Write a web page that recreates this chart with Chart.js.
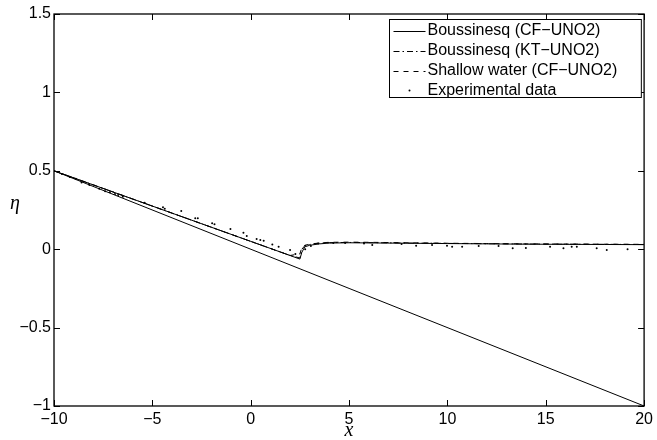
<!DOCTYPE html>
<html>
<head>
<meta charset="utf-8">
<script src="https://cdn.jsdelivr.net/npm/chart.js@4.4.1/dist/chart.umd.min.js"></script>
<style>
  body { margin: 0; background: #fff; }
  canvas { display: block; }
</style>
</head>
<body>
<canvas id="myChart" width="657" height="440"></canvas>
<script>
// axis ticks
const xTicks = [-10, -5, 0, 5, 10, 15, 20];
const yTicks = [-1, -0.5, 0, 0.5, 1, 1.5];

// legend names
const seriesNames = [
    "Boussinesq (CF\u2212UNO2)",
    "Boussinesq (KT\u2212UNO2)",
    "Shallow water (CF\u2212UNO2)",
    "Experimental data"
];

// shared x positions for the computed surfaces
const xs = [-10, -8, -6, -4, -2, 0, 1, 2, 2.5, 2.6, 2.75, 3, 3.5, 4, 5, 6, 8, 10, 12, 14, 16, 18, 20];

//Boussinesq (CF-UNO2)
const cfY = [0.5, 0.41, 0.32, 0.23, 0.14, 0.05, 0.005, -0.04, -0.063, -0.02, 0.015, 0.025, 0.034, 0.039, 0.041, 0.04, 0.038, 0.036, 0.034, 0.032, 0.031, 0.03, 0.029];
//Boussinesq (KT-UNO2)
const ktY = [0.5, 0.41, 0.32, 0.23, 0.14, 0.05, 0.005, -0.04, -0.056, 0.0, 0.022, 0.03, 0.038, 0.042, 0.043, 0.042, 0.039, 0.037, 0.035, 0.033, 0.032, 0.031, 0.03];
//Shallow water (CF-UNO2)
const swY = [0.5, 0.41, 0.32, 0.23, 0.14, 0.05, 0.005, -0.04, -0.03, 0.01, 0.025, 0.032, 0.04, 0.044, 0.045, 0.044, 0.041, 0.038, 0.036, 0.034, 0.033, 0.032, 0.031];

// experimental points
const expX = [-9.6, -9.2, -8.9, -8.6, -8.2, -7.7, -7.4, -7.16, -6.9, -6.74, -6.5, -5.39, -4.46, -4.37, -3.53, -2.82, -2.69, -1.96, -1.84, -1.03, -0.37, -0.2, 0.3, 0.49, 0.66, 1.1, 1.42, 2.0, 2.27, 2.77, 3.06, 3.43, 4.2, 4.8, 5.76, 6.18, 7.67, 8.41, 9.22, 9.98, 10.24, 10.75, 11.59, 12.6, 13.32, 13.99, 15.22, 15.9, 16.32, 16.58, 17.59, 18.1, 19.16];
const expY = [0.48, 0.46, 0.45, 0.425, 0.41, 0.385, 0.37, 0.363, 0.352, 0.345, 0.335, 0.297, 0.267, 0.258, 0.244, 0.197, 0.197, 0.165, 0.159, 0.129, 0.105, 0.084, 0.065, 0.059, 0.054, 0.03, 0.016, -0.005, -0.03, 0.0, 0.02, 0.037, 0.04, 0.04, 0.037, 0.027, 0.033, 0.022, 0.027, 0.022, 0.016, 0.016, 0.02, 0.02, 0.006, 0.008, 0.016, 0.006, 0.016, 0.016, 0.006, -0.005, 0.0];

// sloping bottom
const bedX = [-10, 20];
const bedY = [0.5, -1];

function pts(xa, ya) {
    return xa.map((x, i) => ({x: x, y: ya[i]}));
}

const tickFont = {family: '"Liberation Sans", Arial, sans-serif', size: 16};

function lineSet(label, xa, ya, dash) {
    return {
        label: label,
        data: pts(xa, ya),
        showLine: true,
        borderColor: '#000',
        borderWidth: 1,
        borderDash: dash,
        pointRadius: 0,
        tension: 0
    };
}

let data = {
    datasets: [
        lineSet(seriesNames[0], xs, cfY, []),
        lineSet(seriesNames[1], xs, ktY, [6, 3, 1.5, 3]),
        lineSet(seriesNames[2], xs, swY, [5, 5]),
        {
            label: seriesNames[3],
            data: pts(expX, expY),
            showLine: false,
            pointRadius: 1,
            pointBorderWidth: 0,
            pointBackgroundColor: '#000'
        },
        lineSet('bed', bedX, bedY, [])
    ]
};

// box, inward ticks, axis names, legend
let framePlugin = {
    id: 'frame',
    afterDraw(chart) {
        const ctx = chart.ctx;
        const a = chart.chartArea;
        const sx = chart.scales.x, sy = chart.scales.y;
        const tl = 6;
        ctx.save();
        ctx.strokeStyle = '#000';
        ctx.lineWidth = 1.3;
        ctx.strokeRect(a.left, a.top, a.right - a.left, a.bottom - a.top);
        ctx.lineWidth = 1;
        ctx.beginPath();
        xTicks.forEach(v => {
            const p = Math.round(sx.getPixelForValue(v)) + 0.5;
            ctx.moveTo(p, a.bottom); ctx.lineTo(p, a.bottom - tl);
            ctx.moveTo(p, a.top); ctx.lineTo(p, a.top + tl);
        });
        yTicks.forEach(v => {
            const p = Math.round(sy.getPixelForValue(v)) + 0.5;
            ctx.moveTo(a.left, p); ctx.lineTo(a.left + tl, p);
            ctx.moveTo(a.right, p); ctx.lineTo(a.right - tl, p);
        });
        ctx.stroke();

        // axis names
        ctx.fillStyle = '#000';
        ctx.font = 'italic 20px "Liberation Serif", "DejaVu Serif", serif';
        ctx.textAlign = 'center';
        ctx.textBaseline = 'middle';
        ctx.fillText('x', (a.left + a.right) / 2, 431);
        ctx.fillText('\u03B7', 15, 204);

        // legend
        ctx.font = '16px "Liberation Sans", Arial, sans-serif';
        ctx.textAlign = 'left';
        const tw = Math.max(...seriesNames.map(s => ctx.measureText(s).width));
        const w = 38 + tw + 24, rowH = 20;
        const x0 = Math.round(a.right - 3 - w) + 0.5, y0 = Math.round(a.top + 5) + 0.5;
        const h = rowH * seriesNames.length - 2;
        ctx.fillStyle = '#fff';
        ctx.fillRect(x0, y0, w, h);
        ctx.strokeStyle = '#000';
        ctx.lineWidth = 1;
        ctx.strokeRect(x0, y0, w, h);
        seriesNames.forEach((name, i) => {
            const ds = chart.data.datasets[i];
            const cy = y0 + 11 + i * rowH;
            if (ds.showLine) {
                ctx.setLineDash(ds.borderDash);
                ctx.beginPath();
                ctx.moveTo(x0 + 4, Math.round(cy) + 0.5);
                ctx.lineTo(x0 + 36, Math.round(cy) + 0.5);
                ctx.stroke();
                ctx.setLineDash([]);
            } else {
                ctx.beginPath();
                ctx.arc(x0 + 20, cy, 1, 0, Math.PI * 2);
                ctx.fillStyle = '#000';
                ctx.fill();
            }
            ctx.fillStyle = '#000';
            ctx.fillText(name, x0 + 38, cy);
        });
        ctx.restore();
    }
};

let config = {
    type: 'scatter',
    data: data,
    options: {
        responsive: false,
        animation: false,
        devicePixelRatio: 1,
        layout: {padding: {top: 14, right: 11, left: 0, bottom: 0}},
        plugins: {legend: {display: false}, tooltip: {enabled: false}},
        scales: {
            x: {
                type: 'linear', min: -10, max: 20,
                grid: {display: false, drawTicks: false},
                border: {display: false},
                afterBuildTicks: s => { s.ticks = xTicks.map(v => ({value: v})); },
                afterFit: s => { s.height = 34; },
                ticks: {
                    color: '#000', font: tickFont, padding: 4, maxRotation: 0,
                    callback: v => String(v).replace('-', '\u2212')
                }
            },
            y: {
                type: 'linear', min: -1, max: 1.5,
                grid: {display: false, drawTicks: false},
                border: {display: false},
                afterBuildTicks: s => { s.ticks = yTicks.map(v => ({value: v})); },
                afterFit: s => { s.width = 54; },
                ticks: {
                    color: '#000', font: tickFont, padding: 3,
                    callback: v => String(v).replace('-', '\u2212')
                }
            }
        }
    },
    plugins: [framePlugin]
};

let lineChart = new Chart(document.getElementById('myChart'), config);
</script>
</body>
</html>
